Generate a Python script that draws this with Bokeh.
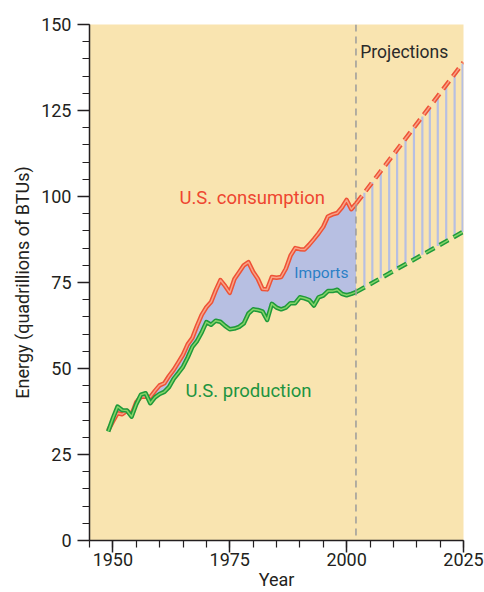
import numpy as np
from bokeh.plotting import figure
from bokeh.models import Range1d, FixedTicker, Span, Label
from bokeh.embed import file_html
from bokeh.resources import INLINE

# ---- data (quadrillion BTUs) ----
years = list(range(1949, 2003))
consumption = [32.0, 34.6, 37.0, 36.7, 37.7, 36.6, 40.2, 41.8, 41.8, 41.7,
               43.5, 45.1, 45.7, 47.8, 49.6, 51.8, 54.0, 57.0, 58.9, 62.4,
               65.6, 67.8, 69.3, 72.7, 75.7, 74.0, 72.0, 76.0, 78.0, 80.0,
               80.9, 78.1, 76.1, 73.1, 73.0, 76.6, 76.4, 76.6, 79.0, 82.8,
               85.0, 84.7, 84.6, 86.0, 87.6, 89.3, 91.2, 94.2, 94.8, 95.2,
               96.8, 99.0, 96.3, 97.9]
production = [31.7, 35.5, 38.9, 37.9, 37.8, 36.0, 39.6, 42.4, 42.8, 39.9,
              41.6, 42.6, 43.2, 44.6, 47.0, 48.7, 50.5, 53.2, 56.3, 58.0,
              60.5, 63.5, 62.7, 63.9, 63.6, 62.4, 61.4, 61.6, 62.1, 63.1,
              66.0, 67.2, 67.0, 66.6, 64.1, 68.8, 67.7, 67.2, 67.7, 69.0,
              69.0, 70.7, 70.4, 69.9, 68.3, 70.7, 71.2, 72.5, 72.5, 72.9,
              71.7, 71.3, 71.7, 72.2]
proj_years = [2002, 2025]
proj_consumption = [97.9, 139.0]
proj_production = [72.2, 89.8]
hatch_years = [2003.8, 2005.5, 2007.3, 2009.1, 2010.8, 2012.6, 2014.4,
               2016.2, 2017.8, 2019.5, 2021.3, 2023.1, 2024.8]
x_major = [1950, 1975, 2000, 2025]
x_minor = list(range(1945, 2026, 5))
y_major = [0, 25, 50, 75, 100, 125, 150]
y_minor = list(range(0, 151, 5))
projection_start = 2002

FONT = "Roboto"
TXT = "#231f20"
RED_DARK, RED_LIGHT = "#ee5236", "#f9a286"
GRN_DARK, GRN_LIGHT = "#1f9a3a", "#86d468"
FILL = "#b7bfe2"
BG = "#f9e4b0"

p = figure(width=484, height=592, output_backend="svg", toolbar_location=None,
           x_range=Range1d(1945, 2025), y_range=Range1d(0, 150),
           min_border_left=89, min_border_top=24, min_border_right=21,
           min_border_bottom=52)
p.background_fill_color = BG
p.border_fill_color = "white"
p.outline_line_color = None
p.grid.visible = False

# imports area
p.varea(x=years, y1=production, y2=consumption, fill_color=FILL)

# projection hatch
h_top = np.interp(hatch_years, proj_years, proj_consumption)
h_bot = np.interp(hatch_years, proj_years, proj_production)
p.segment(x0=hatch_years, y0=h_bot, x1=hatch_years, y1=h_top,
          line_color=FILL, line_width=2.2)

p.add_layout(Span(location=projection_start, dimension="height",
                  line_color="#9b9b9b", line_dash="7 5", line_width=1.5))

# historical lines (double stroke)
for ys, dark, light in [(consumption, RED_DARK, RED_LIGHT),
                        (production, GRN_DARK, GRN_LIGHT)]:
    p.line(years, ys, line_color=dark, line_width=4.5, line_join="round")
    p.line(years, ys, line_color=light, line_width=1.5, line_join="round")

for ys, dark, light in [(proj_consumption, RED_DARK, RED_LIGHT),
                        (proj_production, GRN_DARK, GRN_LIGHT)]:
    p.line(proj_years, ys, line_color=dark, line_width=4.5, line_dash="10 6")
    p.line(proj_years, ys, line_color=light, line_width=1.5, line_dash="10 6")

# axes
for ax, maj, mnr in [(p.xaxis[0], x_major, x_minor), (p.yaxis[0], y_major, y_minor)]:
    ax.ticker = FixedTicker(ticks=maj, minor_ticks=mnr)
    ax.axis_line_color = TXT
    ax.axis_line_width = 1.5
    ax.major_tick_line_color = TXT
    ax.major_tick_line_width = 1.5
    ax.minor_tick_line_color = TXT
    ax.minor_tick_line_width = 1.2
    ax.major_tick_in = 0
    ax.minor_tick_in = 0
    ax.major_tick_out = 12
    ax.minor_tick_out = 7
    ax.major_label_text_font = FONT
    ax.major_label_text_font_size = "18px"
    ax.major_label_text_color = TXT
    ax.axis_label_text_font = FONT
    ax.axis_label_text_font_size = "18px"
    ax.axis_label_text_font_style = "normal"
    ax.axis_label_text_color = TXT

p.xaxis.axis_label = "Year"
p.xaxis.major_label_standoff = 0
p.xaxis.axis_label_standoff = 0
p.yaxis.axis_label = "Energy (quadrillions of BTUs)"
p.yaxis.major_label_standoff = 6
p.yaxis.axis_label_standoff = 5

# labels
p.add_layout(Label(x=1979.8, y=99.7, text="U.S. consumption", text_font=FONT,
                   text_font_size="18.5px", text_color="#ee4630",
                   text_align="center", text_baseline="middle"))
p.add_layout(Label(x=1979.0, y=43.6, text="U.S. production", text_font=FONT,
                   text_font_size="18.5px", text_color="#1e9440",
                   text_align="center", text_baseline="middle"))
p.add_layout(Label(x=1994.6, y=77.9, text="Imports", text_font=FONT,
                   text_font_size="15.5px", text_color="#2a7fc6",
                   text_align="center", text_baseline="middle"))
p.add_layout(Label(x=2002.9, y=141.9, text="Projections", text_font=FONT,
                   text_font_size="17.5px", text_color="#2a2a2a",
                   text_align="left", text_baseline="middle"))

open("out.html", "w").write(file_html(p, INLINE))
